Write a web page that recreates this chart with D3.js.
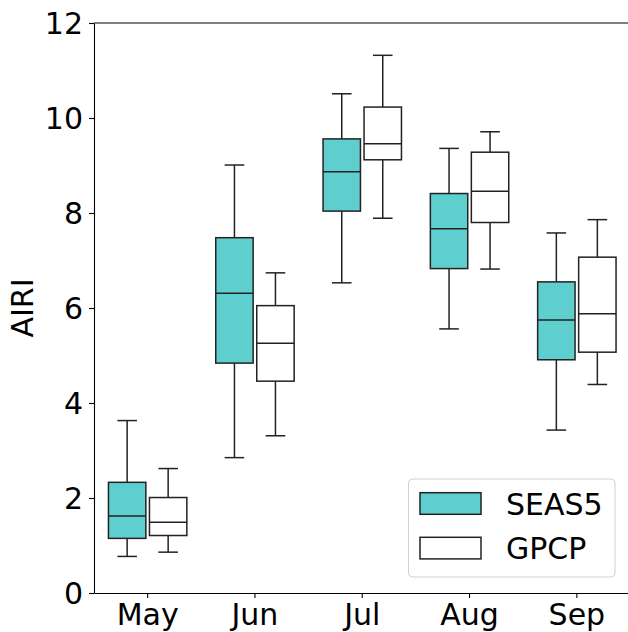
<!DOCTYPE html>
<html lang="en">
<head>
    <meta charset="UTF-8">
    <title>AIRI Boxplot</title>
    <script src="https://d3js.org/d3.v7.min.js"></script>
    <style>
        body { margin: 0; background: #fff; }
        svg text { font-family: "DejaVu Sans", sans-serif; fill: #000; }
    </style>
</head>
<body>
    <svg width="628" height="632"></svg>
    <script>
        // Monate und Datensätze
        var months = ["May", "Jun", "Jul", "Aug", "Sep"];
        var series = ["SEAS5", "GPCP"];
        var yTicks = [0, 2, 4, 6, 8, 10, 12];

        // [Whisker unten, Q1, Median, Q3, Whisker oben] je Monat
        var seas5 = [
            [0.77, 1.15, 1.62, 2.33, 3.63],
            [2.85, 4.84, 6.31, 7.48, 9.01],
            [6.53, 8.04, 8.87, 9.56, 10.51],
            [5.56, 6.83, 7.67, 8.41, 9.36],
            [3.43, 4.91, 5.75, 6.55, 7.58]
        ];
        var gpcp = [
            [0.86, 1.21, 1.49, 2.01, 2.62],
            [3.31, 4.46, 5.26, 6.05, 6.74],
            [7.89, 9.12, 9.46, 10.23, 11.32],
            [6.82, 7.80, 8.46, 9.28, 9.71],
            [4.39, 5.07, 5.88, 7.07, 7.86]
        ];

        var colors = { SEAS5: "#5ecfce", GPCP: "#ffffff" };
        var edge = "#222";

        var svg = d3.select("svg"),
            margin = { top: 23, right: -2.5, bottom: 39, left: 94 },
            width = +svg.attr("width") - margin.left - margin.right,
            height = +svg.attr("height") - margin.top - margin.bottom;

        var g = svg.append("g")
            .attr("transform", "translate(" + margin.left + "," + margin.top + ")");

        var x = d3.scaleBand().domain(months).range([0, width]).padding(0);
        var y = d3.scaleLinear().domain([0, 12]).range([height, 0]);

        var boxW = 37.4, capW = 19.6, off = 20.5;

        // Boxen zeichnen
        var data = [];
        months.forEach(function(m, i) {
            data.push({ month: m, s: "SEAS5", v: seas5[i] });
            data.push({ month: m, s: "GPCP", v: gpcp[i] });
        });

        var boxes = g.selectAll(".box")
            .data(data)
            .enter().append("g")
            .attr("class", "box")
            .attr("transform", function(d) {
                var cx = x(d.month) + x.bandwidth() / 2 + (d.s === "SEAS5" ? -off : off);
                return "translate(" + cx + ",0)";
            });

        // Whisker
        boxes.append("line")
            .attr("x1", 0).attr("x2", 0)
            .attr("y1", function(d) { return y(d.v[0]); })
            .attr("y2", function(d) { return y(d.v[1]); })
            .attr("stroke", edge).attr("stroke-width", 1.5);
        boxes.append("line")
            .attr("x1", 0).attr("x2", 0)
            .attr("y1", function(d) { return y(d.v[3]); })
            .attr("y2", function(d) { return y(d.v[4]); })
            .attr("stroke", edge).attr("stroke-width", 1.5);
        // Kappen
        [0, 4].forEach(function(k) {
            boxes.append("line")
                .attr("x1", -capW / 2).attr("x2", capW / 2)
                .attr("y1", function(d) { return y(d.v[k]); })
                .attr("y2", function(d) { return y(d.v[k]); })
                .attr("stroke", edge).attr("stroke-width", 1.5);
        });
        // Box
        boxes.append("rect")
            .attr("x", -boxW / 2)
            .attr("width", boxW)
            .attr("y", function(d) { return y(d.v[3]); })
            .attr("height", function(d) { return y(d.v[1]) - y(d.v[3]); })
            .attr("fill", function(d) { return colors[d.s]; })
            .attr("stroke", edge).attr("stroke-width", 1.5);
        // Median
        boxes.append("line")
            .attr("x1", -boxW / 2).attr("x2", boxW / 2)
            .attr("y1", function(d) { return y(d.v[2]); })
            .attr("y2", function(d) { return y(d.v[2]); })
            .attr("stroke", edge).attr("stroke-width", 1.5);

        // Achsen
        var xAxis = g.append("g")
            .attr("transform", "translate(0," + height + ")")
            .call(d3.axisBottom(x).tickSize(5).tickPadding(6).tickSizeOuter(0));
        var yAxis = g.append("g")
            .call(d3.axisLeft(y).tickValues(yTicks).tickSize(5).tickPadding(6).tickSizeOuter(0));
        [xAxis, yAxis].forEach(function(a) {
            a.selectAll("text").style("font-size", "30px").attr("fill", "#000");
            a.selectAll("line").attr("stroke", "#000").attr("stroke-width", 1.1);
            a.select(".domain").attr("stroke", "#000").attr("stroke-width", 1.1);
        });
        yAxis.selectAll("text").attr("dy", "0.36em");

        // obere und rechte Achsenlinie
        g.append("line").attr("x1", 0).attr("x2", width).attr("y1", 0).attr("y2", 0)
            .attr("stroke", "#000").attr("stroke-width", 1.1);
        g.append("line").attr("x1", width).attr("x2", width).attr("y1", 0).attr("y2", height)
            .attr("stroke", "#000").attr("stroke-width", 1.1);

        // Y-Beschriftung
        svg.append("text")
            .attr("transform", "translate(33," + (margin.top + height / 2) + ") rotate(-90)")
            .attr("text-anchor", "middle")
            .style("font-size", "30px")
            .text("AIRI");

        // Legende
        var leg = svg.append("g");
        leg.append("rect")
            .attr("x", 408.5).attr("y", 479)
            .attr("width", 206.5).attr("height", 98)
            .attr("rx", 4)
            .attr("fill", "#fff").attr("fill-opacity", 0.8)
            .attr("stroke", "#d0d0d0").attr("stroke-width", 1);
        series.forEach(function(s, i) {
            var yy = 492.7 + i * 44.6;
            leg.append("rect")
                .attr("x", 420).attr("y", yy)
                .attr("width", 61).attr("height", 21.6)
                .attr("fill", colors[s])
                .attr("stroke", edge).attr("stroke-width", 1.5);
            leg.append("text")
                .attr("x", 506).attr("y", yy + 22)
                .style("font-size", "30px")
                .text(s);
        });
    </script>
</body>
</html>
